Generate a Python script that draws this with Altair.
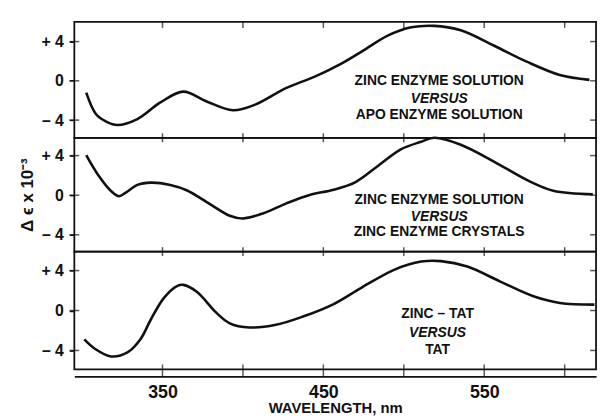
import altair as alt
import pandas as pd

# ---- data ----
wl1 = [302.6, 308.7, 315, 322, 334.4, 348.7, 363, 377.5, 393.8, 408, 426.7, 445,
       460, 474, 490, 504.6, 518.9, 535.4, 555.9, 576.4, 596.9, 615.4]
de1 = [-1.2, -3.4, -4.15, -4.5, -3.9, -2.2, -1.1, -2.1, -3.0, -2.4, -0.75, 0.45,
       1.65, 3.0, 4.6, 5.45, 5.6, 5.15, 3.6, 1.95, 0.6, 0.1]

wl2 = [302.6, 309.8, 318, 323, 327.2, 334.4, 342.6, 354.9, 365, 379.5, 391.8, 400,
       412.3, 426.7, 441, 456.4, 469.7, 484.1, 498.4, 510.8, 519, 535.4, 556, 576.4,
       592.9, 617.5]
de2 = [4.05, 2.1, 0.43, -0.1, 0.26, 1.04, 1.27, 1.04, 0.5, -0.9, -2.07, -2.35,
       -1.85, -0.85, 0.0, 0.55, 1.3, 2.98, 4.65, 5.4, 5.8, 5.1, 3.4, 1.55,
       0.46, 0.1]

wl3 = [301.4, 307.7, 318, 328.2, 336.4, 342.6, 350.8, 359, 363, 371.3, 383.6, 391.8,
       404.1, 420.5, 436.9, 456.4, 473.8, 494.3, 510.8, 523.1, 539.5, 560, 580.6,
       597, 618.5]
de3 = [-2.9, -3.8, -4.6, -4.2, -2.85, -0.95, 1.24, 2.45, 2.57, 1.88, -0.24, -1.28,
       -1.7, -1.43, -0.63, 0.65, 2.3, 4.1, 4.9, 4.95, 4.4, 2.9, 1.43,
       0.76, 0.59]

y_ticks = [-4, 0, 4]
x_ticks = [350, 400, 450, 500, 550, 600]
x_labels = [350, 450, 550]

labels1 = ["ZINC ENZYME SOLUTION", "VERSUS", "APO ENZYME SOLUTION"]
label_y1 = [0.0, -1.83, -3.48]
labels2 = ["ZINC ENZYME SOLUTION", "VERSUS", "ZINC ENZYME CRYSTALS"]
label_y2 = [-0.47, -2.2, -3.77]
labels3 = ["ZINC \u2013 TAT", "VERSUS", "TAT"]
label_y3 = [-0.32, -2.3, -3.95]
label_x = [522, 522, 521]

W = 527
x_domain = [295.2, 295.2 + W / 1.625]
y_domains = [[-5.8, 6.0], [-5.7, 5.8], [-5.9, 5.9]]
heights = [117, 115, 119]
FONT = "Liberation Sans"
INK = "#111111"


def panel(i, wl, de, labels, label_y, lx, bottom, show_title, top_panel):
    H = heights[i]
    xs = alt.Scale(domain=x_domain, nice=False, zero=False)
    ys = alt.Scale(domain=y_domains[i], nice=False, zero=False)
    if bottom:
        xaxis = alt.Axis(values=x_labels, title="WAVELENGTH, nm", ticks=False,
                         offset=7, domain=True, domainColor=INK, domainWidth=1.6,
                         labelFont=FONT, labelFontSize=18, labelFontWeight="bold",
                         labelColor=INK, labelPadding=7, format="d", grid=False,
                         titleFont=FONT, titleFontSize=15, titleFontWeight="bold",
                         titleColor=INK, titlePadding=0)
    else:
        xaxis = None
    yaxis = alt.Axis(values=y_ticks, title="\u0394 \u03f5 x 10\u207b\u00b3",
                     titleOpacity=1 if show_title else 0,
                     titleFont=FONT, titleFontSize=17, titleFontWeight="bold",
                     titleColor=INK, titlePadding=5,
                     labelExpr="datum.value > 0 ? '+ ' + datum.value : (datum.value < 0 ? '\u2013 ' + abs(datum.value) : '0')",
                     labelFont=FONT, labelFontSize=16, labelFontWeight="bold",
                     labelColor=INK, labelPadding=6, tickSize=5, ticks=True,
                     tickColor=INK, tickWidth=1.5, domain=False, grid=False)
    xenc = alt.X("wl:Q", scale=xs, axis=xaxis)
    yenc = alt.Y("de:Q", scale=ys, axis=yaxis)

    curve = alt.Chart(pd.DataFrame({"wl": wl, "de": de})).mark_line(
        color=INK, strokeWidth=2.6, interpolate="catmull-rom").encode(x=xenc, y=yenc)

    tdf = pd.DataFrame({"wl": [lx] * 3, "de": label_y, "t": labels,
                        "it": [False, True, False]})
    txt_base = alt.Chart(tdf).encode(x=xenc, y=yenc, text="t:N")
    txt_n = txt_base.transform_filter("!datum.it").mark_text(
        font=FONT, fontSize=14, fontWeight="bold", color=INK)
    txt_i = txt_base.transform_filter("datum.it").mark_text(
        font=FONT, fontSize=14, fontWeight="bold", fontStyle="italic", color=INK)

    ydf = pd.DataFrame({"de": y_ticks})
    yt_left = alt.Chart(ydf).mark_tick(orient="horizontal", size=10, thickness=1.5,
                                       color=INK).encode(y=yenc, x=alt.value(0))
    yt_right = alt.Chart(ydf).mark_tick(orient="horizontal", size=6, thickness=1.5,
                                        color=INK).encode(y=yenc, x=alt.value(W - 3))
    xdf = pd.DataFrame({"wl": x_ticks})
    if top_panel:
        xt_top = alt.Chart(xdf).mark_tick(orient="vertical", size=6, thickness=1.5,
                                          color=INK).encode(x=xenc, y=alt.value(3))
    else:
        xt_top = alt.Chart(xdf).mark_tick(orient="vertical", size=9, thickness=1.5,
                                          color=INK).encode(x=xenc, y=alt.value(0))
    layers = [curve, txt_n, txt_i, yt_left, yt_right, xt_top]
    if bottom:
        xt_bot = alt.Chart(xdf).mark_tick(orient="vertical", size=12, thickness=1.5,
                                          color=INK).encode(x=xenc, y=alt.value(H + 1))
        layers.append(xt_bot)
    return alt.layer(*layers).properties(width=W, height=H)


p1 = panel(0, wl1, de1, labels1, label_y1, label_x[0], False, False, True)
p2 = panel(1, wl2, de2, labels2, label_y2, label_x[1], False, True, False)
p3 = panel(2, wl3, de3, labels3, label_y3, label_x[2], True, False, False)

chart = alt.vconcat(p1, p2, p3, spacing=0, bounds="flush").properties(
    padding={"left": 9, "top": 9, "right": 0, "bottom": 0},
    background="white",
).configure_view(stroke=INK, strokeWidth=1.8)

chart.save("out.html", embed_options={"renderer": "svg", "actions": False})
